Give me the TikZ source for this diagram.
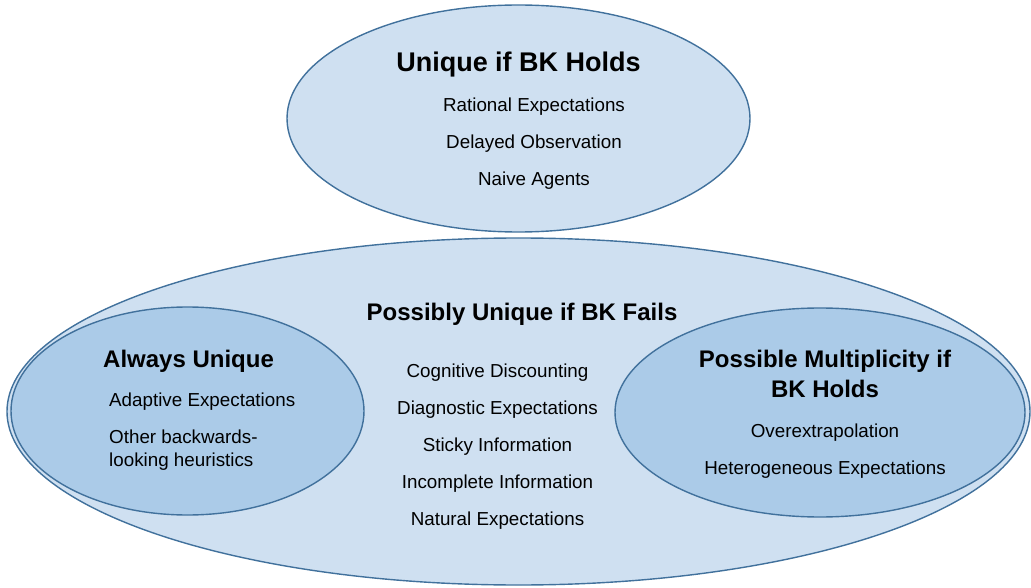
\documentclass[tikz,border=0pt]{standalone}
\usepackage{fontspec}
\setmainfont{Liberation Sans}
\usetikzlibrary{shapes.geometric}

\definecolor{rimblue}{HTML}{41719C}
\definecolor{paleblue}{HTML}{CFE0F1}
\definecolor{midblue}{HTML}{ABCBE8}

\tikzset{
  blob/.style={ellipse,draw=rimblue,line width=1.4pt,inner sep=0pt},
  headtext/.style={anchor=base,font=\bfseries\fontsize{24}{30}\selectfont},
  itemtext/.style={anchor=base,font=\fontsize{18.8}{22}\selectfont}
}

\begin{document}
\begin{tikzpicture}[x=1pt,y=-1pt]
      \useasboundingbox (0,0) rectangle (1031,588);
      %this draws the ellipses
      \node [blob,fill=paleblue,minimum width=463pt,minimum height=227pt] (top) at (518.5,118.5) {};
      \node [blob,fill=paleblue,minimum width=1023pt,minimum height=347pt] (big) at (518.5,411.5) {};
      \node [blob,fill=midblue,minimum width=353pt,minimum height=208pt] (left) at (187.5,411) {};
      \node [blob,fill=midblue,minimum width=410pt,minimum height=209pt] (right) at (820,412.5) {};
      %this draws the headings
      \node [headtext,font=\bfseries\fontsize{27}{32}\selectfont] (toptitle) at (518.5,72) {Unique if BK Holds};
      \node [headtext] (bigtitle) at (522,320) {Possibly Unique if BK Fails};
      \node [headtext,anchor=base west,inner xsep=0pt] (lefttitle) at (103,367) {Always Unique};
      \node [headtext] (righttitle) at (825,367) {Possible Multiplicity if};
      \node [headtext] (righttitleb) at (825,397) {BK Holds};
      %this draws the lists
      \foreach \t [count=\i] in {Rational Expectations,Delayed Observation,Naive Agents}
        \node [itemtext] (top\i) at (534,{112+37*(\i-1)}) {\t};
      \foreach \t [count=\i] in {Cognitive Discounting,Diagnostic Expectations,Sticky Information,Incomplete Information,Natural Expectations}
        \node [itemtext] (mid\i) at (497.5,{377+37.2*(\i-1)}) {\t};
      \node [itemtext,anchor=base west,inner xsep=0pt] (left1) at (109,406) {Adaptive Expectations};
      \node [itemtext,anchor=base west,inner xsep=0pt] (left2) at (109,443) {Other backwards-};
      \node [itemtext,anchor=base west,inner xsep=0pt] (left3) at (109,466) {looking heuristics};
      \node [itemtext] (right1) at (825,437) {Overextrapolation};
      \node [itemtext] (right2) at (825,474) {Heterogeneous Expectations};
    \end{tikzpicture}
\end{document}
